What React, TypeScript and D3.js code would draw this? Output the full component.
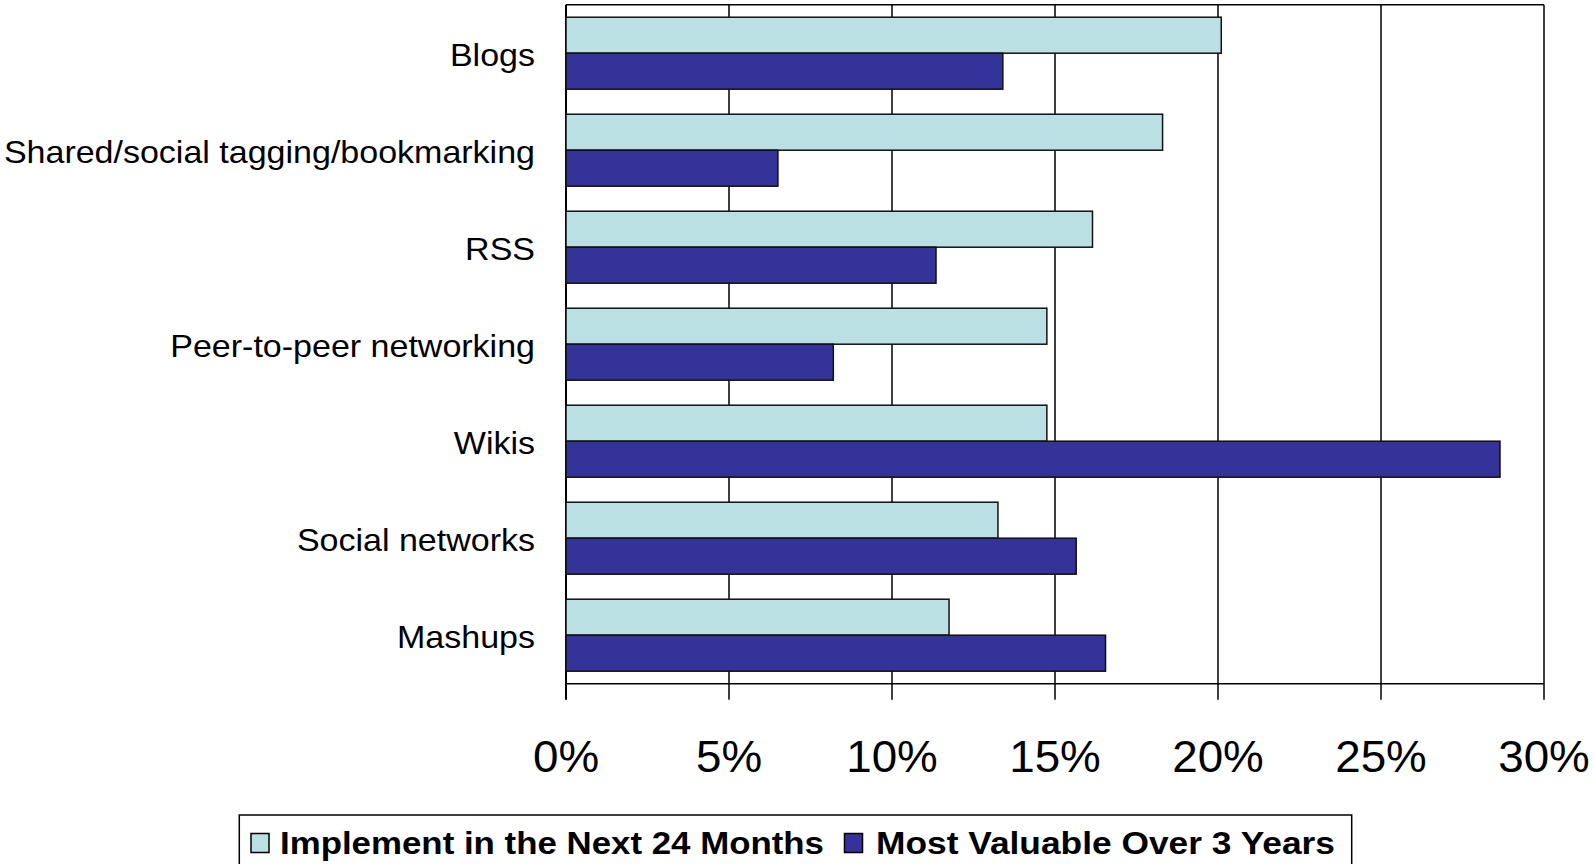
import React from "react";
import * as d3 from "d3";

const categories = [
  "Blogs",
  "Shared/social tagging/bookmarking",
  "RSS",
  "Peer-to-peer networking",
  "Wikis",
  "Social networks",
  "Mashups",
];
const seriesNames = ["Implement in the Next 24 Months", "Most Valuable Over 3 Years"];
const implementNext24 = [20.1, 18.3, 16.15, 14.75, 14.75, 13.25, 11.75];
const mostValuable3Y = [13.4, 6.5, 11.35, 8.2, 28.65, 15.65, 16.55];
const xTicks = [0, 5, 10, 15, 20, 25, 30];
const colors = ["#BBE0E3", "#333399"];

const W = 1595;
const H = 864;
const FONT = "'Liberation Sans', Arial, Helvetica, sans-serif";

export default function App() {
  const left = 566;
  const right = 1544;
  const top = 4.7;
  const bottom = 683.7;
  const tickLen = 16;

  const x = d3.scaleLinear().domain([0, 30]).range([left, right]);
  const y = d3
    .scaleBand<string>()
    .domain(categories)
    .range([top, bottom])
    .paddingInner(0.258)
    .paddingOuter(0.129);
  const inner = d3
    .scaleBand<string>()
    .domain(seriesNames)
    .range([0, y.bandwidth()])
    .padding(0);

  const seriesValues = [implementNext24, mostValuable3Y];

  return (
    <svg
      width={W}
      height={H}
      style={{ position: "absolute", left: 0, top: 0, background: "#fff" }}
      fontFamily={FONT}
    >
      <rect x={0} y={0} width={W} height={H} fill="#fff" />
      {/* gridlines */}
      {xTicks.map((t) => (
        <line
          key={"g" + t}
          x1={x(t)}
          x2={x(t)}
          y1={top}
          y2={bottom + tickLen}
          stroke="#000"
          strokeWidth={t === 0 ? 2 : 1.5}
        />
      ))}
      {/* top border and bottom axis */}
      <line x1={left} x2={right} y1={top} y2={top} stroke="#000" strokeWidth={1.5} />
      <line x1={left} x2={right} y1={bottom} y2={bottom} stroke="#000" strokeWidth={1.5} />

      {/* bars */}
      {categories.map((c, i) => (
        <g key={c}>
          {seriesNames.map((s, j) => {
            const v = seriesValues[j][i];
            return (
              <rect
                key={s}
                x={x(0)}
                y={(y(c) as number) + (inner(s) as number)}
                width={x(v) - x(0)}
                height={inner.bandwidth()}
                fill={colors[j]}
                stroke="#111"
                strokeWidth={1.5}
              />
            );
          })}
        </g>
      ))}

      {/* category labels */}
      {categories.map((c) => {
        const cy = (y(c) as number) + y.bandwidth() / 2;
        return (
          <text
            key={"l" + c}
            transform={`translate(535, ${cy + 12.5}) scale(1.08, 1)`}
            textAnchor="end"
            fontSize={31.5}
            fill="#000"
          >
            {c}
          </text>
        );
      })}

      {/* tick labels */}
      {xTicks.map((t) => (
        <text
          key={"t" + t}
          transform={`translate(${x(t)}, 772) scale(1.04, 1)`}
          textAnchor="middle"
          fontSize={44}
          fill="#000"
        >
          {t + "%"}
        </text>
      ))}

      {/* legend */}
      <rect x={239.3} y={815} width={1351.7 - 239.3} height={80} fill="#fff" stroke="#000" strokeWidth={1.5} />
      <rect x={251} y={833.5} width={18} height={19} fill={colors[0]} stroke="#000" strokeWidth={1.5} />
      <text
        x={280}
        y={854}
        fontSize={32}
        fontWeight="bold"
        textLength={544}
        lengthAdjust="spacingAndGlyphs"
        fill="#000"
      >
        {seriesNames[0]}
      </text>
      <rect x={844.5} y={833.5} width={18} height={19} fill={colors[1]} stroke="#000" strokeWidth={1.5} />
      <text
        x={876}
        y={854}
        fontSize={32}
        fontWeight="bold"
        textLength={459}
        lengthAdjust="spacingAndGlyphs"
        fill="#000"
      >
        {seriesNames[1]}
      </text>
    </svg>
  );
}
